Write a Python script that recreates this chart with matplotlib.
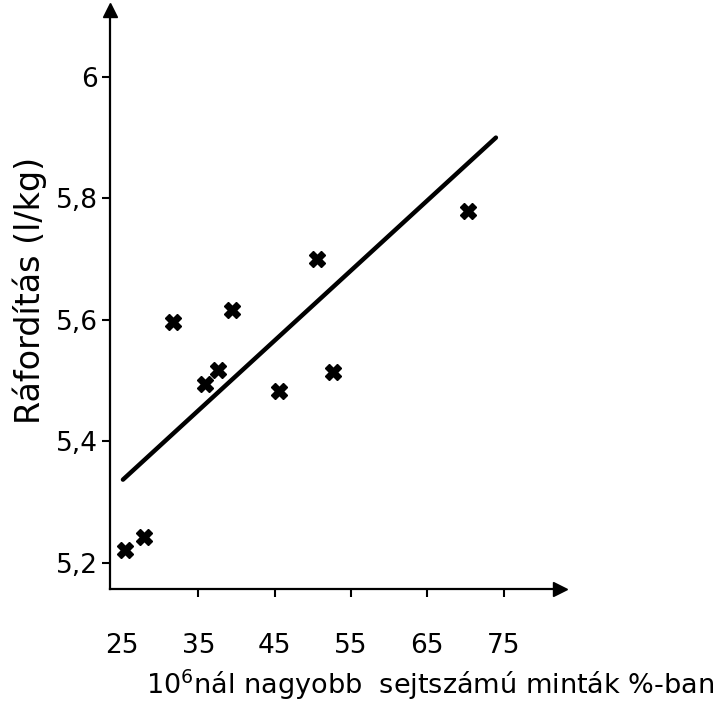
import numpy as np
import matplotlib.pyplot as plt

pct = [25.4, 27.9, 31.7, 35.9, 37.6, 39.4, 45.6, 50.6, 52.7, 70.3]
cost = [5.221, 5.243, 5.597, 5.495, 5.518, 5.617, 5.483, 5.700, 5.514, 5.779]

# Regression line end points
line_x = [25.1, 74.0]
line_y = [5.337, 5.900]

xticks = [25, 35, 45, 55, 65, 75]
yticks = [5.2, 5.4, 5.6, 5.8, 6.0]
ylabels = ["5,2", "5,4", "5,6", "5,8", "6"]

fig = plt.figure(figsize=(7.25, 7.11), dpi=100)
ax = fig.add_axes([0.1517, 0.1716, 0.6207, 0.8143])

ax.plot(line_x, line_y, color="black", lw=3.2, solid_capstyle="round")
ax.plot(pct, cost, linestyle="none", marker="X", ms=11, color="black")

ax.set_xlim(23.4, 82.4)
ax.set_ylim(5.157, 6.11)

for s in ["top", "right"]:
    ax.spines[s].set_visible(False)
for s in ["left", "bottom"]:
    ax.spines[s].set_linewidth(1.6)

# arrow heads
ax.plot(1, 0, ">k", ms=10, transform=ax.transAxes, clip_on=False)
ax.plot(0, 1, "^k", ms=10, transform=ax.transAxes, clip_on=False)

ax.set_xticks(xticks)
ax.set_xticklabels([str(v) for v in xticks])
ax.set_yticks(yticks)
ax.set_yticklabels(ylabels)
ax.tick_params(axis="x", direction="out", length=6, width=1.5, pad=26, labelsize=19)
ax.tick_params(axis="y", direction="out", length=6, width=1.5, pad=3, labelsize=19)
ax.xaxis.get_major_ticks()[0].tick1line.set_visible(False)

ax.set_ylabel("Ráfordítás (l/kg)", fontsize=24)
ax.yaxis.set_label_coords(-0.14, 0.516)
ax.set_xlabel("10$^{6}$nál nagyobb  sejtszámú minták %-ban", fontsize=19.5)
ax.xaxis.set_label_coords(0.711, -0.135)

fig.savefig("out.png", dpi=100)
